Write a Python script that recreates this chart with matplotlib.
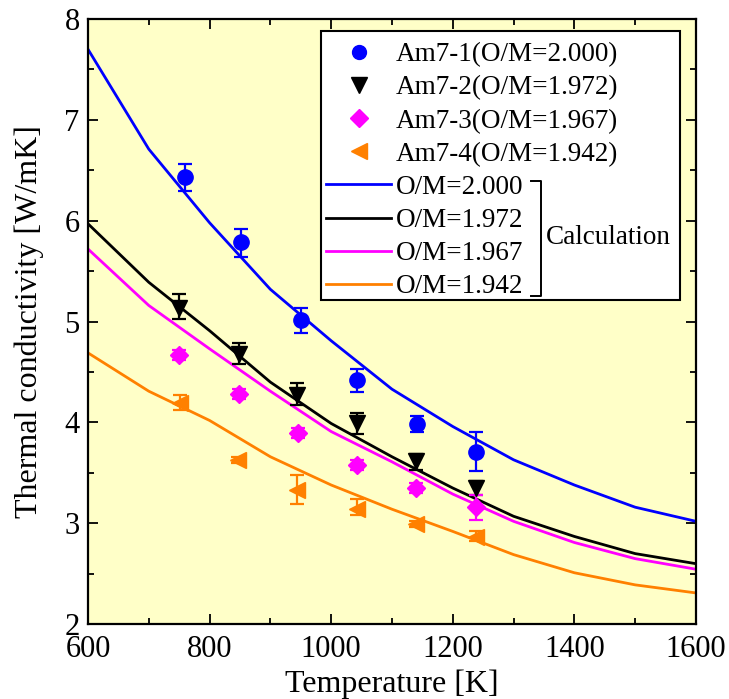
import matplotlib
matplotlib.use("Agg")
import matplotlib.pyplot as plt
from matplotlib.ticker import MultipleLocator
from matplotlib.lines import Line2D
from matplotlib.patches import Rectangle

plt.rcParams['font.family'] = ['Liberation Serif', 'DejaVu Serif']
plt.rcParams['mathtext.fontset'] = 'stix'

# ---- measured data ----
temp_exp = [760, 851, 950, 1043, 1141, 1239]
am1 = [6.43, 5.79, 5.02, 4.42, 3.98, 3.71]
am1_lo = [6.29, 5.64, 4.89, 4.30, 3.91, 3.52]
am1_hi = [6.56, 5.92, 5.13, 4.53, 4.06, 3.91]

temp2 = [750, 849, 944, 1043, 1140, 1238]
am2 = [5.13, 4.68, 4.27, 3.99, 3.62, 3.35]
am2_lo = [5.03, 4.58, 4.17, 3.89, 3.53, 3.28]
am2_hi = [5.27, 4.79, 4.39, 4.09, 3.69, 3.42]

temp3 = [750, 849, 946, 1043, 1140, 1239]
am3 = [4.67, 4.28, 3.90, 3.58, 3.35, 3.16]
am3_lo = [4.62, 4.23, 3.85, 3.53, 3.30, 3.03]
am3_hi = [4.72, 4.33, 3.95, 3.63, 3.40, 3.28]

temp4 = [752, 846, 944, 1043, 1140, 1238]
am4 = [4.19, 3.63, 3.33, 3.14, 2.99, 2.86]
am4_lo = [4.12, 3.60, 3.19, 3.08, 2.96, 2.82]
am4_hi = [4.27, 3.66, 3.48, 3.24, 3.02, 2.92]

# ---- calculation curves ----
temp_calc = [600, 700, 800, 900, 1000, 1100, 1200, 1300, 1400, 1500, 1600]
calc_2000 = [7.70, 6.71, 5.98, 5.32, 4.81, 4.33, 3.96, 3.63, 3.38, 3.16, 3.02]
calc_1972 = [5.97, 5.39, 4.91, 4.40, 3.99, 3.66, 3.35, 3.07, 2.87, 2.70, 2.60]
calc_1967 = [5.72, 5.16, 4.73, 4.31, 3.91, 3.61, 3.29, 3.02, 2.81, 2.65, 2.545]
calc_1942 = [4.69, 4.31, 4.02, 3.66, 3.38, 3.14, 2.92, 2.69, 2.51, 2.39, 2.31]

exp_labels = ['Am7-1(O/M=2.000)', 'Am7-2(O/M=1.972)', 'Am7-3(O/M=1.967)', 'Am7-4(O/M=1.942)']
calc_labels = ['O/M=2.000', 'O/M=1.972', 'O/M=1.967', 'O/M=1.942']

blue = '#0000FF'
black = '#000000'
magenta = '#FF00FF'
orange = '#FF8000'

W, H = 729, 699
fig = plt.figure(figsize=(W / 100, H / 100), dpi=100)
ax = fig.add_axes([0.1207, 0.1070, 0.8340, 0.8658])
ax.set_facecolor('#FFFFC8')

def fx(px):
    return px / W

def fy(py):
    return 1 - py / H

lw = 2.0
ax.plot(temp_calc, calc_2000, color=blue, lw=lw, zorder=2)
ax.plot(temp_calc, calc_1972, color=black, lw=lw, zorder=2)
ax.plot(temp_calc, calc_1967, color=magenta, lw=lw, zorder=2)
ax.plot(temp_calc, calc_1942, color=orange, lw=lw, zorder=2)

def err(v, lo, hi):
    return [[a - b for a, b in zip(v, lo)], [c - a for a, c in zip(v, hi)]]

series = [
    (temp_exp, am1, am1_lo, am1_hi, blue, 'o', 11),
    (temp2, am2, am2_lo, am2_hi, black, 'v', 12),
    (temp3, am3, am3_lo, am3_hi, magenta, 'D', 9.5),
    (temp4, am4, am4_lo, am4_hi, orange, '<', 12),
]
for t, v, lo, hi, c, m, ms in series:
    ax.errorbar(t, v, yerr=err(v, lo, hi), fmt=m, color=c, ms=ms, mec=c,
                ecolor=c, elinewidth=1.6, capsize=4.8, capthick=1.6, zorder=3)

ax.set_xlim(600, 1600)
ax.set_ylim(2, 8)
ax.xaxis.set_major_locator(MultipleLocator(200))
ax.xaxis.set_minor_locator(MultipleLocator(100))
ax.yaxis.set_major_locator(MultipleLocator(1))
ax.yaxis.set_minor_locator(MultipleLocator(0.5))
ax.tick_params(which='both', direction='in', top=True, right=True, width=1.3)
ax.tick_params(which='major', length=7, labelsize=22)
ax.tick_params(axis='x', which='major', pad=7.5)
ax.tick_params(axis='y', which='major', pad=6)
ax.tick_params(which='minor', length=4)
for s in ax.spines.values():
    s.set_linewidth(1.6)

ax.set_xlabel('Temperature [K]', fontsize=23, labelpad=4)
ax.set_ylabel('Thermal conductivity [W/mK]', fontsize=23, labelpad=15)

handles = [
    Line2D([], [], ls='none', marker='o', color=blue, ms=10),
    Line2D([], [], ls='none', marker='v', color=black, ms=11),
    Line2D([], [], ls='none', marker='D', color=magenta, ms=9),
    Line2D([], [], ls='none', marker='<', color=orange, ms=11),
    Line2D([], [], color=blue, lw=lw),
    Line2D([], [], color=black, lw=lw),
    Line2D([], [], color=magenta, lw=lw),
    Line2D([], [], color=orange, lw=lw),
]
labels = exp_labels + calc_labels

# legend frame (drawn separately so it can enclose the "Calculation" note)
frame = Rectangle((fx(321), fy(300)), fx(680) - fx(321), fy(31) - fy(300),
                  transform=fig.transFigure, facecolor='white', edgecolor='black',
                  lw=1.5, zorder=4.5, clip_on=False)
ax.add_patch(frame)

leg = ax.legend(handles, labels, loc='upper left', bbox_to_anchor=(fx(321), fy(37)),
                bbox_transform=fig.transFigure,
                fontsize=19.5, frameon=False, handlelength=2.37, handletextpad=0.2,
                labelspacing=0.30, borderpad=0.2, borderaxespad=0)
leg.set_zorder(5)

# bracket and "Calculation" label
ax.plot([fx(531), fx(541), fx(541), fx(531)], [fy(181), fy(181), fy(296), fy(296)],
        transform=fig.transFigure, color='black', lw=1.4, clip_on=False, zorder=6)
ax.text(fx(546), fy(238), 'Calculation', transform=fig.transFigure,
        fontsize=19.5, va='center', ha='left', zorder=6)

fig.savefig('out.png', dpi=100)
